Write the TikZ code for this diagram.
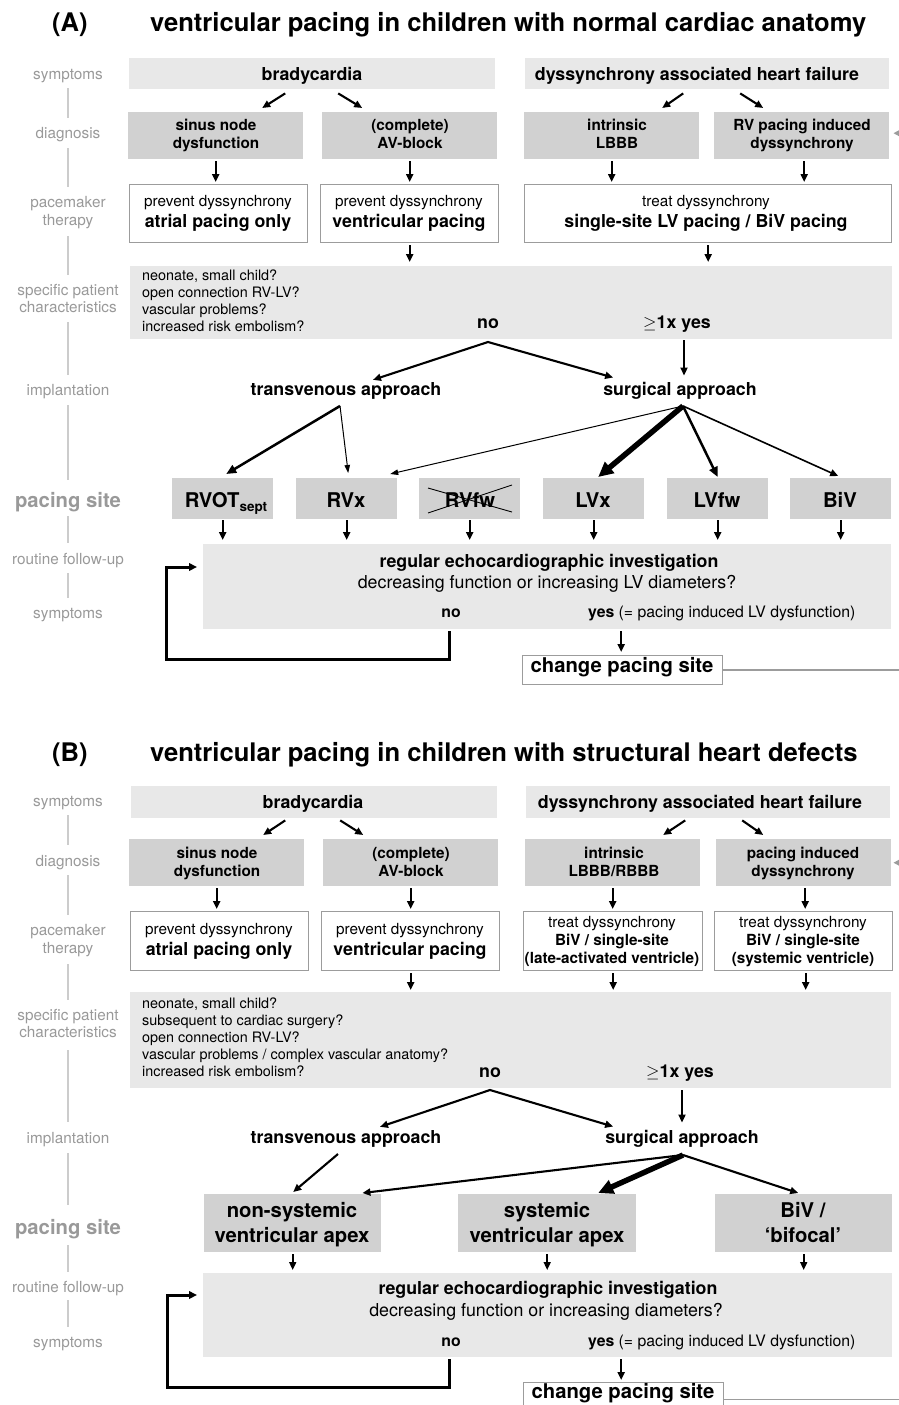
\documentclass[tikz,border=0pt]{standalone}
\usepackage{fontspec}
\setmainfont{TeX Gyre Heros}
\usetikzlibrary{arrows.meta,calc}
\definecolor{boxlight}{HTML}{E8E8E8}
\definecolor{boxdark}{HTML}{D1D1D1}
\definecolor{labgray}{HTML}{999999}
\definecolor{rulegray}{HTML}{CCCCCC}
\definecolor{bordgray}{HTML}{9C9C9C}
\newcommand\ftitle{\fontsize{25.6}{30}\selectfont\bfseries}
\newcommand\fbigb{\fontsize{17.8}{21}\selectfont\bfseries}
\newcommand\fbigr{\fontsize{17.8}{21}\selectfont}
\newcommand\fdiag{\fontsize{15.3}{18}\selectfont\bfseries}
\newcommand\fsmr{\fontsize{15.3}{18}\selectfont}
\newcommand\fchar{\fontsize{14.4}{17}\selectfont}
\newcommand\ffol{\fontsize{15.8}{18}\selectfont}
\newcommand\fpace{\fontsize{20.3}{24}\selectfont\bfseries}
\newcommand\flab{\fontsize{15.3}{18}\selectfont}
\newcommand\flabb{\fontsize{20.3}{24}\selectfont\bfseries}
\newcommand\mkbox[6]{\node[#1, minimum width={(#5-#3)*1pt}, minimum height={(#6-#4)*1pt}] (#2) at (#3,#4) {};}
\begin{document}
\begin{tikzpicture}[x=1pt,y=-1pt,
  lbox/.style={fill=boxlight, draw=none, inner sep=0pt, anchor=north west},
  dbox/.style={fill=boxdark, draw=none, inner sep=0pt, anchor=north west},
  wbox/.style={fill=white, draw=bordgray, line width=1.4pt, inner sep=0pt, anchor=north west},
  txt/.style={inner sep=0pt, anchor=base},
  txtw/.style={inner sep=0pt, anchor=base west},
  lab/.style={txt, text=labgray, font=\flab},
  rulel/.style={rulegray, line width=2.5pt},
  arr/.style={line width=2.1pt, -{Triangle[length=8pt,width=7pt]}},
  varr/.style={arr, shorten <=2pt, shorten >=2pt},
  thinarr/.style={line width=1pt, -{Triangle[length=8pt,width=5.5pt]}},
  medarr/.style={line width=2.5pt, -{Triangle[length=10pt,width=8.5pt]}},
  fatarr/.style={line width=5.5pt, -{Triangle[length=15pt,width=14pt]}},
  looparr/.style={line width=3pt, -{Triangle[length=8pt,width=7.5pt]}},
  grayarr/.style={bordgray, line width=1.5pt, -{Triangle[length=7pt,width=7pt]}},
  grayline/.style={bordgray, line width=1.5pt},
  crossl/.style={line width=0.9pt}
]
\useasboundingbox (0,0) rectangle (899,1405);
\clip (0,0) rectangle (899,1405);

%%%%%%%%%%%%%%%%%%%%%%%%%%%%%%%% PANEL A
\node[txtw, font=\ftitle] (tA0) at (52,32) {(A)};
\node[txtw, font=\ftitle] (tA) at (150,32) {ventricular pacing in children with normal cardiac anatomy};

% side labels
\node[lab] (lA1) at (68,79) {symptoms};
\node[lab] (lA2) at (68,138) {diagnosis};
\node[lab] (lA3a) at (68,207) {pacemaker};
\node[lab] (lA3b) at (68,225) {therapy};
\node[lab] (lA4a) at (68,295) {specific patient};
\node[lab] (lA4b) at (68,312) {characteristics};
\node[lab] (lA5) at (68,395) {implantation};
\node[lab, font=\flabb] (lA6) at (68,507) {pacing site};
\node[lab] (lA7) at (68,564) {routine follow-up};
\node[lab] (lA8) at (68,618) {symptoms};
\foreach \a/\b in {88/118,148/187,236/275,322/375,405/480,516/543,573/598}
  \draw[rulel] (68,\a) -- (68,\b);

% boxes
\mkbox{lbox}{bradyA}{129}{58}{495}{89}
\mkbox{lbox}{dysA}{525}{58}{889}{89}
\mkbox{dbox}{sinusA}{128}{112}{303}{159}
\mkbox{dbox}{avA}{322}{112}{497}{159}
\mkbox{dbox}{lbbbA}{524}{112}{699}{159}
\mkbox{dbox}{rvA}{714}{112}{889}{159}
\mkbox{wbox}{atrA}{129}{184}{307}{242}
\mkbox{wbox}{ventA}{320}{184}{498}{242}
\mkbox{wbox}{treatA}{524}{184}{891}{242}
\mkbox{lbox}{charA}{130}{266}{892}{339}
\mkbox{dbox}{rvotA}{172}{478}{273}{519}
\mkbox{dbox}{rvxA}{296}{478}{397}{519}
\mkbox{dbox}{rvfwA}{419}{478}{520}{519}
\mkbox{dbox}{lvxA}{543}{478}{644}{519}
\mkbox{dbox}{lvfwA}{667}{478}{768}{519}
\mkbox{dbox}{bivA}{790}{478}{891}{519}
\mkbox{lbox}{followA}{203}{544}{891}{629}
\mkbox{wbox}{changeA}{522}{655}{722}{684}

% texts
\node[txt, font=\fbigb] (bradyAt) at (312,81) {bradycardia};
\node[txt, font=\fbigb] (dysAt) at (697,81) {dyssynchrony associated heart failure};
\node[txt, font=\fdiag] (sinusAt1) at (216,130) {sinus node};
\node[txt, font=\fdiag] (sinusAt2) at (216,148) {dysfunction};
\node[txt, font=\fdiag] (avAt1) at (410,130) {(complete)};
\node[txt, font=\fdiag] (avAt2) at (410,148) {AV-block};
\node[txt, font=\fdiag] (lbbbAt1) at (617,130) {intrinsic};
\node[txt, font=\fdiag] (lbbbAt2) at (617,148) {LBBB};
\node[txt, font=\fdiag] (rvAt1) at (802,130) {RV pacing induced};
\node[txt, font=\fdiag] (rvAt2) at (802,148) {dyssynchrony};
\node[txt, font=\fsmr] (atrAt1) at (218,206) {prevent dyssynchrony};
\node[txt, font=\fbigb] (atrAt2) at (218,227) {atrial pacing only};
\node[txt, font=\fsmr] (ventAt1) at (409,206) {prevent dyssynchrony};
\node[txt, font=\fbigb] (ventAt2) at (409,227) {ventricular pacing};
\node[txt, font=\fsmr] (treatAt1) at (706,206) {treat dyssynchrony};
\node[txt, font=\fbigb] (treatAt2) at (706,227) {single-site LV pacing / BiV pacing};
\node[txtw, font=\fchar] (charAt1) at (142,280) {neonate, small child?};
\node[txtw, font=\fchar] (charAt2) at (142,297) {open connection RV-LV?};
\node[txtw, font=\fchar] (charAt3) at (142,314) {vascular problems?};
\node[txtw, font=\fchar] (charAt4) at (142,331) {increased risk embolism?};
\node[txt, font=\fbigb] (noA) at (488,328) {no};
\node[txt, font=\fbigb] (yesA) at (677,328) {$\geq$1x yes};
\node[txt, font=\fbigb] (transA) at (346,395) {transvenous approach};
\node[txt, font=\fbigb] (surgA) at (680,395) {surgical approach};
\node[txt, font=\fpace] (rvotAt) at (226,507) {RVOT\raisebox{-4.5pt}{\fontsize{13.5}{14}\selectfont sept}};
\node[txt, font=\fpace] (rvxAt) at (346,507) {RVx};
\node[txt, font=\fpace] (rvfwAt) at (470,507) {RVfw};
\node[txt, font=\fpace] (lvxAt) at (593,507) {LVx};
\node[txt, font=\fpace] (lvfwAt) at (717,507) {LVfw};
\node[txt, font=\fpace] (bivAt) at (840,507) {BiV};
\node[txt, font=\fbigb] (folAt1) at (549,567) {regular echocardiographic investigation};
\node[txt, font=\fbigr] (folAt2) at (547,588) {decreasing function or increasing LV diameters?};
\node[txt, font=\ffol\bfseries] (noFA) at (451,617) {no};
\node[txtw, font=\ffol] (yesFA) at (588,617) {\textbf{yes} (= pacing induced LV dysfunction)};
\node[txt, font=\fpace] (changeAt) at (622,672) {change pacing site};

% crossed out RVfw
\draw[crossl] ($(rvfwA.north west)+(9,10)$) -- ($(rvfwA.north west)+(93,34)$);
\draw[crossl] ($(rvfwA.north west)+(9,35)$) -- ($(rvfwA.north west)+(93,7)$);

% arrows
\draw[arr] ($(bradyA.south)+(-27,4)$) -- ($(sinusA.north)+(46.5,-4)$);
\draw[arr] ($(bradyA.south)+(26,4)$) -- ($(avA.north)+(-47.5,-4)$);
\draw[arr] ($(dysA.south)+(-24,4)$) -- ($(lbbbA.north)+(50.5,-4)$);
\draw[arr] ($(dysA.south)+(33,4)$) -- ($(rvA.north)+(-38.5,-4)$);
\draw[varr] (sinusA.south) -- (sinusA.south |- atrA.north);
\draw[varr] (avA.south) -- (avA.south |- ventA.north);
\draw[varr] (lbbbA.south) -- (lbbbA.south |- treatA.north);
\coordinate (rvAout) at ($(rvA.south)+(2.5,0)$);
\draw[varr] (rvAout) -- (rvAout |- treatA.north);
\draw[varr, shorten >=4pt] (ventA.south) -- (ventA.south |- charA.north);
\draw[varr, shorten >=4pt] (treatA.south) -- (treatA.south |- charA.north);
\coordinate (noApexA) at ($(noA.base)+(0,14)$);
\draw[line width=2.1pt, {Triangle[length=8pt,width=7pt]}-{Triangle[length=8pt,width=7pt]}]
  ($(transA.north)+(27,-2)$) -- (noApexA) -- ($(surgA.north west)+(10,-4)$);
\draw[arr] ($(yesA.base)+(7,12)$) -- ($(surgA.north)+(4,-6)$);
\coordinate (tvApexA) at ($(transA.base)+(-6,11)$);
\draw[medarr] (tvApexA) -- ($(rvotA.north)+(3.5,-4)$);
\draw[thinarr] (tvApexA) -- ($(rvxA.north)+(1.5,-5)$);
\coordinate (sgApexA) at ($(surgA.base)+(3,11)$);
\draw[thinarr] (sgApexA) -- ($(rvxA.north)+(43.5,-4)$);
\draw[fatarr] (sgApexA) -- ($(lvxA.north)+(4.5,-1)$);
\draw[medarr] (sgApexA) -- ($(lvfwA.north)+(0,-1)$);
\draw[arr, line width=1.6pt] (sgApexA) -- ($(bivA.north)+(-2.5,-2)$);
\foreach \n in {rvotA,rvxA,rvfwA,lvxA,lvfwA,bivA}
  \draw[varr, shorten <=1pt, shorten >=4pt] (\n.south) -- (\n.south |- followA.north);
\draw[looparr] ($(noFA |- followA.south)+(-2,2)$) |- ($(followA.south west)+(-37,30)$) |- ($(followA.north west)+(-6,23)$);
\coordinate (yesAout) at ($(followA.south)+(74,0)$);
\draw[varr, shorten >=3pt] (yesAout) -- (yesAout |- changeA.north);
\draw[grayline] (changeA.east) -- ++(190,0);
\draw[grayarr] ($(rvA.east)+(12,-2.5)$) -- ($(rvA.east)+(4,-2.5)$);

%%%%%%%%%%%%%%%%%%%%%%%%%%%%%%%% PANEL B
\node[txtw, font=\ftitle] (tB0) at (52,761) {(B)};
\node[txtw, font=\ftitle] (tB) at (150,761) {ventricular pacing in children with structural heart defects};

\node[lab] (lB1) at (68,806) {symptoms};
\node[lab] (lB2) at (68,866) {diagnosis};
\node[lab] (lB3a) at (68,935) {pacemaker};
\node[lab] (lB3b) at (68,953) {therapy};
\node[lab] (lB4a) at (68,1020) {specific patient};
\node[lab] (lB4b) at (68,1037) {characteristics};
\node[lab] (lB5) at (68,1143) {implantation};
\node[lab, font=\flabb] (lB6) at (68,1234) {pacing site};
\node[lab] (lB7) at (68,1292) {routine follow-up};
\node[lab] (lB8) at (68,1347) {symptoms};
\foreach \a/\b in {815/845,875/915,964/1000,1050/1122,1153/1205,1245/1272,1300/1327}
  \draw[rulel] (68,\a) -- (68,\b);

\mkbox{lbox}{bradyB}{131}{786}{497}{818}
\mkbox{lbox}{dysB}{526}{786}{890}{818}
\mkbox{dbox}{sinusB}{129}{839}{304}{886}
\mkbox{dbox}{avB}{323}{839}{498}{886}
\mkbox{dbox}{lbbbB}{525}{839}{700}{886}
\mkbox{dbox}{pacB}{716}{839}{891}{886}
\mkbox{wbox}{atrB}{130}{911}{308}{970}
\mkbox{wbox}{ventB}{321}{911}{499}{970}
\mkbox{wbox}{treatBa}{523}{911}{702}{970}
\mkbox{wbox}{treatBb}{714}{911}{892}{970}
\mkbox{lbox}{charB}{130}{992}{891}{1088}
\mkbox{dbox}{nonsysB}{204}{1194}{381}{1252}
\mkbox{dbox}{sysB}{458}{1194}{636}{1252}
\mkbox{dbox}{bivB}{715}{1194}{892}{1252}
\mkbox{lbox}{followB}{203}{1273}{892}{1357}
\mkbox{wbox}{changeB}{523}{1382}{723}{1416}

\node[txt, font=\fbigb] (bradyBt) at (313,808) {bradycardia};
\node[txt, font=\fbigb] (dysBt) at (700,808) {dyssynchrony associated heart failure};
\node[txt, font=\fdiag] (sinusBt1) at (217,858) {sinus node};
\node[txt, font=\fdiag] (sinusBt2) at (217,876) {dysfunction};
\node[txt, font=\fdiag] (avBt1) at (411,858) {(complete)};
\node[txt, font=\fdiag] (avBt2) at (411,876) {AV-block};
\node[txt, font=\fdiag] (lbbbBt1) at (614,858) {intrinsic};
\node[txt, font=\fdiag] (lbbbBt2) at (614,876) {LBBB/RBBB};
\node[txt, font=\fdiag] (pacBt1) at (803,858) {pacing induced};
\node[txt, font=\fdiag] (pacBt2) at (803,876) {dyssynchrony};
\node[txt, font=\fsmr] (atrBt1) at (219,934) {prevent dyssynchrony};
\node[txt, font=\fbigb] (atrBt2) at (219,955) {atrial pacing only};
\node[txt, font=\fsmr] (ventBt1) at (410,934) {prevent dyssynchrony};
\node[txt, font=\fbigb] (ventBt2) at (410,955) {ventricular pacing};
\node[txt, font=\fsmr] (trBat1) at (612,927) {treat dyssynchrony};
\node[txt, font=\fdiag] (trBat2) at (612,945) {BiV / single-site};
\node[txt, font=\fdiag] (trBat3) at (612,963) {(late-activated ventricle)};
\node[txt, font=\fsmr] (trBbt1) at (803,927) {treat dyssynchrony};
\node[txt, font=\fdiag] (trBbt2) at (803,945) {BiV / single-site};
\node[txt, font=\fdiag] (trBbt3) at (803,963) {(systemic ventricle)};
\node[txtw, font=\fchar] (charBt1) at (142,1008) {neonate, small child?};
\node[txtw, font=\fchar] (charBt2) at (142,1025) {subsequent to cardiac surgery?};
\node[txtw, font=\fchar] (charBt3) at (142,1042) {open connection RV-LV?};
\node[txtw, font=\fchar] (charBt4) at (142,1059) {vascular problems / complex vascular anatomy?};
\node[txtw, font=\fchar] (charBt5) at (142,1076) {increased risk embolism?};
\node[txt, font=\fbigb] (noB) at (490,1077) {no};
\node[txt, font=\fbigb] (yesB) at (680,1077) {$\geq$1x yes};
\node[txt, font=\fbigb] (transB) at (346,1143) {transvenous approach};
\node[txt, font=\fbigb] (surgB) at (682,1143) {surgical approach};
\node[txt, font=\fpace] (nonsysBt1) at (292,1217) {non-systemic};
\node[txt, font=\fpace] (nonsysBt2) at (292,1242) {ventricular apex};
\node[txt, font=\fpace] (sysBt1) at (547,1217) {systemic};
\node[txt, font=\fpace] (sysBt2) at (547,1242) {ventricular apex};
\node[txt, font=\fpace] (bivBt1) at (803,1217) {BiV /};
\node[txt, font=\fpace] (bivBt2) at (803,1242) {`bifocal'};
\node[txt, font=\fbigb] (folBt1) at (548,1294) {regular echocardiographic investigation};
\node[txt, font=\fbigr] (folBt2) at (546,1316) {decreasing function or increasing diameters?};
\node[txt, font=\ffol\bfseries] (noFB) at (451,1346) {no};
\node[txtw, font=\ffol] (yesFB) at (588,1346) {\textbf{yes} (= pacing induced LV dysfunction)};
\node[txt, font=\fpace] (changeBt) at (623,1398) {change pacing site};

\draw[arr] ($(bradyB.south)+(-29,2)$) -- ($(sinusB.north)+(46.5,-4)$);
\draw[arr] ($(bradyB.south)+(26,2)$) -- ($(avB.north)+(-47.5,-4)$);
\draw[arr] ($(dysB.south)+(-23,2)$) -- ($(lbbbB.north)+(50.5,-4)$);
\draw[arr] ($(dysB.south)+(34,2)$) -- ($(pacB.north)+(-40.5,-4)$);
\draw[varr] (sinusB.south) -- (sinusB.south |- atrB.north);
\draw[varr] (avB.south) -- (avB.south |- ventB.north);
\draw[varr] (lbbbB.south) -- (lbbbB.south |- treatBa.north);
\coordinate (pacBout) at ($(pacB.south)+(1.5,0)$);
\draw[varr] (pacBout) -- (pacBout |- treatBb.north);
\draw[varr] (ventB.south) -- (ventB.south |- charB.north);
\draw[varr] (treatBa.south) -- (treatBa.south |- charB.north);
\coordinate (trBbout) at ($(treatBb.south)+(2,0)$);
\draw[varr] (trBbout) -- (trBbout |- charB.north);
\coordinate (noApexB) at ($(noB.base)+(0,13)$);
\draw[line width=2.1pt, {Triangle[length=8pt,width=7pt]}-{Triangle[length=8pt,width=7pt]}]
  ($(transB.north)+(34,-3)$) -- (noApexB) -- ($(surgB.north west)+(8,-3)$);
\draw[arr] ($(yesB.base)+(2,13)$) -- ($(surgB.north)+(0,-7)$);
\coordinate (tvApexB) at ($(transB.base)+(-8,11)$);
\draw[arr] (tvApexB) -- ($(nonsysB.north)+(0.5,-2)$);
\coordinate (sgApexB) at ($(surgB.base)+(1,12)$);
\draw[arr] (sgApexB) -- ($(nonsysB.north east)+(-19,-1)$);
\draw[fatarr] (sgApexB) -- ($(sysB.north)+(51,-1)$);
\draw[arr] (sgApexB) -- ($(bivB.north)+(-5.5,-1)$);
\foreach \n in {nonsysB,sysB,bivB}
  \draw[varr, line width=1.7pt, shorten >=3pt] (\n.south) -- (\n.south |- followB.north);
\draw[looparr] ($(noFB |- followB.south)+(-2,2)$) |- ($(followB.south west)+(-36,30)$) |- ($(followB.north west)+(-6,22)$);
\coordinate (yesBout) at ($(followB.south)+(73.5,0)$);
\draw[varr] (yesBout) -- (yesBout |- changeB.north);
\draw[grayline] (changeB.east) -- ++(190,0);
\draw[grayarr] ($(pacB.east)+(10,0)$) -- ($(pacB.east)+(2,0)$);
\end{tikzpicture}
\end{document}
